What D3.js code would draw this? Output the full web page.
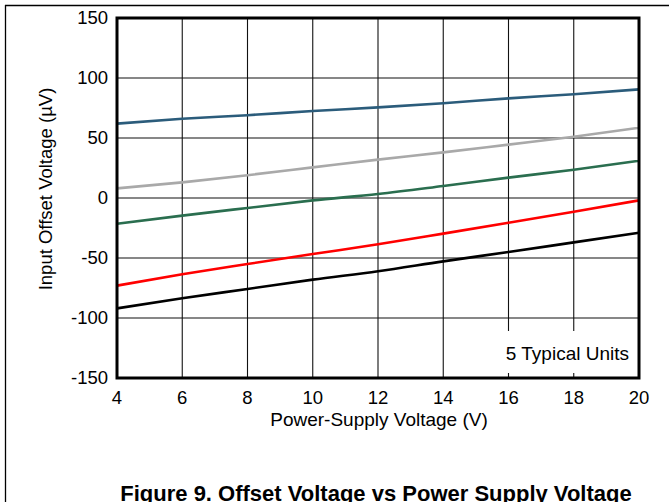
<!DOCTYPE html>
<html>
<head>
<meta charset="utf-8">
<script src="https://cdn.jsdelivr.net/npm/d3@7"></script>
<style>
  body { margin: 0; background: #fff; }
  text { font-family: "Liberation Sans", Arial, sans-serif; }
</style>
</head>
<body>
<svg width="669" height="502"></svg>
<script>
// supply voltage (V)
let supply = [4, 6, 8, 10, 12, 14, 16, 18, 20];

// offset voltage (uV) for the 5 typical units
let unitBlue = [62, 66, 69, 72.5, 75.5, 79, 83, 86.5, 90.5];
let unitGray = [8, 13, 19, 25.5, 32, 38, 44.5, 51, 58.5];
let unitGreen = [-21.5, -14.7, -8.3, -2, 3.3, 10, 17, 23.6, 31];
let unitRed = [-73, -63.5, -55, -46.7, -38.6, -29.7, -20.6, -11.4, -2];
let unitBlack = [-92, -83.5, -75.8, -68, -61, -52.8, -45, -37, -29];

let xTicks = [4, 6, 8, 10, 12, 14, 16, 18, 20];
let yTicks = [-150, -100, -50, 0, 50, 100, 150];

let series = [
    {values: unitBlue, color: "#2b5c7b"},
    {values: unitGray, color: "#a9a9a9"},
    {values: unitGreen, color: "#2a6e4f"},
    {values: unitRed, color: "#ff0000"},
    {values: unitBlack, color: "#000000"}
];

let svg = d3.select("svg");
let plotLeft = 117, plotRight = 639, plotTop = 18, plotBottom = 378;
let fontSize = 18.5;

let x = d3.scaleLinear().domain([4, 20]).range([plotLeft, plotRight]);
let y = d3.scaleLinear().domain([-150, 150]).range([plotBottom, plotTop]);

// outer frame of the figure
svg.append("line").attr("x1", 5).attr("x2", 669).attr("y1", 5.5).attr("y2", 5.5)
    .attr("stroke", "#000").attr("stroke-width", 1.3);
svg.append("line").attr("x1", 5.5).attr("x2", 5.5).attr("y1", 5).attr("y2", 502)
    .attr("stroke", "#000").attr("stroke-width", 1.3);

// grid
svg.append("g").selectAll("line")
    .data(xTicks.slice(1, -1))
    .enter()
    .append("line")
    .attr("x1", d => x(d)).attr("x2", d => x(d))
    .attr("y1", plotTop).attr("y2", plotBottom)
    .attr("stroke", "#111").attr("stroke-width", 1.1);

svg.append("g").selectAll("line")
    .data(yTicks.slice(1, -1))
    .enter()
    .append("line")
    .attr("x1", plotLeft).attr("x2", plotRight)
    .attr("y1", d => y(d)).attr("y2", d => y(d))
    .attr("stroke", "#111").attr("stroke-width", 1.1);

// data lines
let line = d3.line()
    .x((d, i) => x(supply[i]))
    .y(d => y(d))
    .curve(d3.curveMonotoneX);

svg.append("g").selectAll("path")
    .data(series)
    .enter()
    .append("path")
    .attr("d", d => line(d.values))
    .attr("fill", "none")
    .attr("stroke", d => d.color)
    .attr("stroke-width", 2.6);

// note box
svg.append("rect")
    .attr("x", 496).attr("y", 331).attr("width", 142).attr("height", 42)
    .attr("fill", "#fff");
svg.append("text")
    .attr("x", 629).attr("y", 360)
    .attr("text-anchor", "end")
    .attr("font-size", 19)
    .text("5 Typical Units");

// plot border
svg.append("rect")
    .attr("x", plotLeft).attr("y", plotTop)
    .attr("width", plotRight - plotLeft).attr("height", plotBottom - plotTop)
    .attr("fill", "none").attr("stroke", "#000").attr("stroke-width", 3);

// tick labels
svg.append("g").selectAll("text")
    .data(xTicks)
    .enter()
    .append("text")
    .attr("x", d => x(d)).attr("y", 404)
    .attr("text-anchor", "middle")
    .attr("font-size", fontSize)
    .text(d => d);

svg.append("g").selectAll("text")
    .data(yTicks)
    .enter()
    .append("text")
    .attr("x", 108).attr("y", d => y(d) + 6)
    .attr("text-anchor", "end")
    .attr("font-size", fontSize)
    .text(d => d);

// axis titles
svg.append("text")
    .attr("x", 379).attr("y", 426)
    .attr("text-anchor", "middle")
    .attr("font-size", 19)
    .text("Power-Supply Voltage (V)");

svg.append("text")
    .attr("transform", "translate(52," + 189 + ") rotate(-90)")
    .attr("text-anchor", "middle")
    .attr("font-size", fontSize)
    .text("Input Offset Voltage (\u00b5V)");

// caption
svg.append("text")
    .attr("x", 376).attr("y", 501)
    .attr("text-anchor", "middle")
    .attr("font-size", 22)
    .attr("font-weight", "bold")
    .text("Figure 9. Offset Voltage vs Power Supply Voltage");
</script>
</body>
</html>
